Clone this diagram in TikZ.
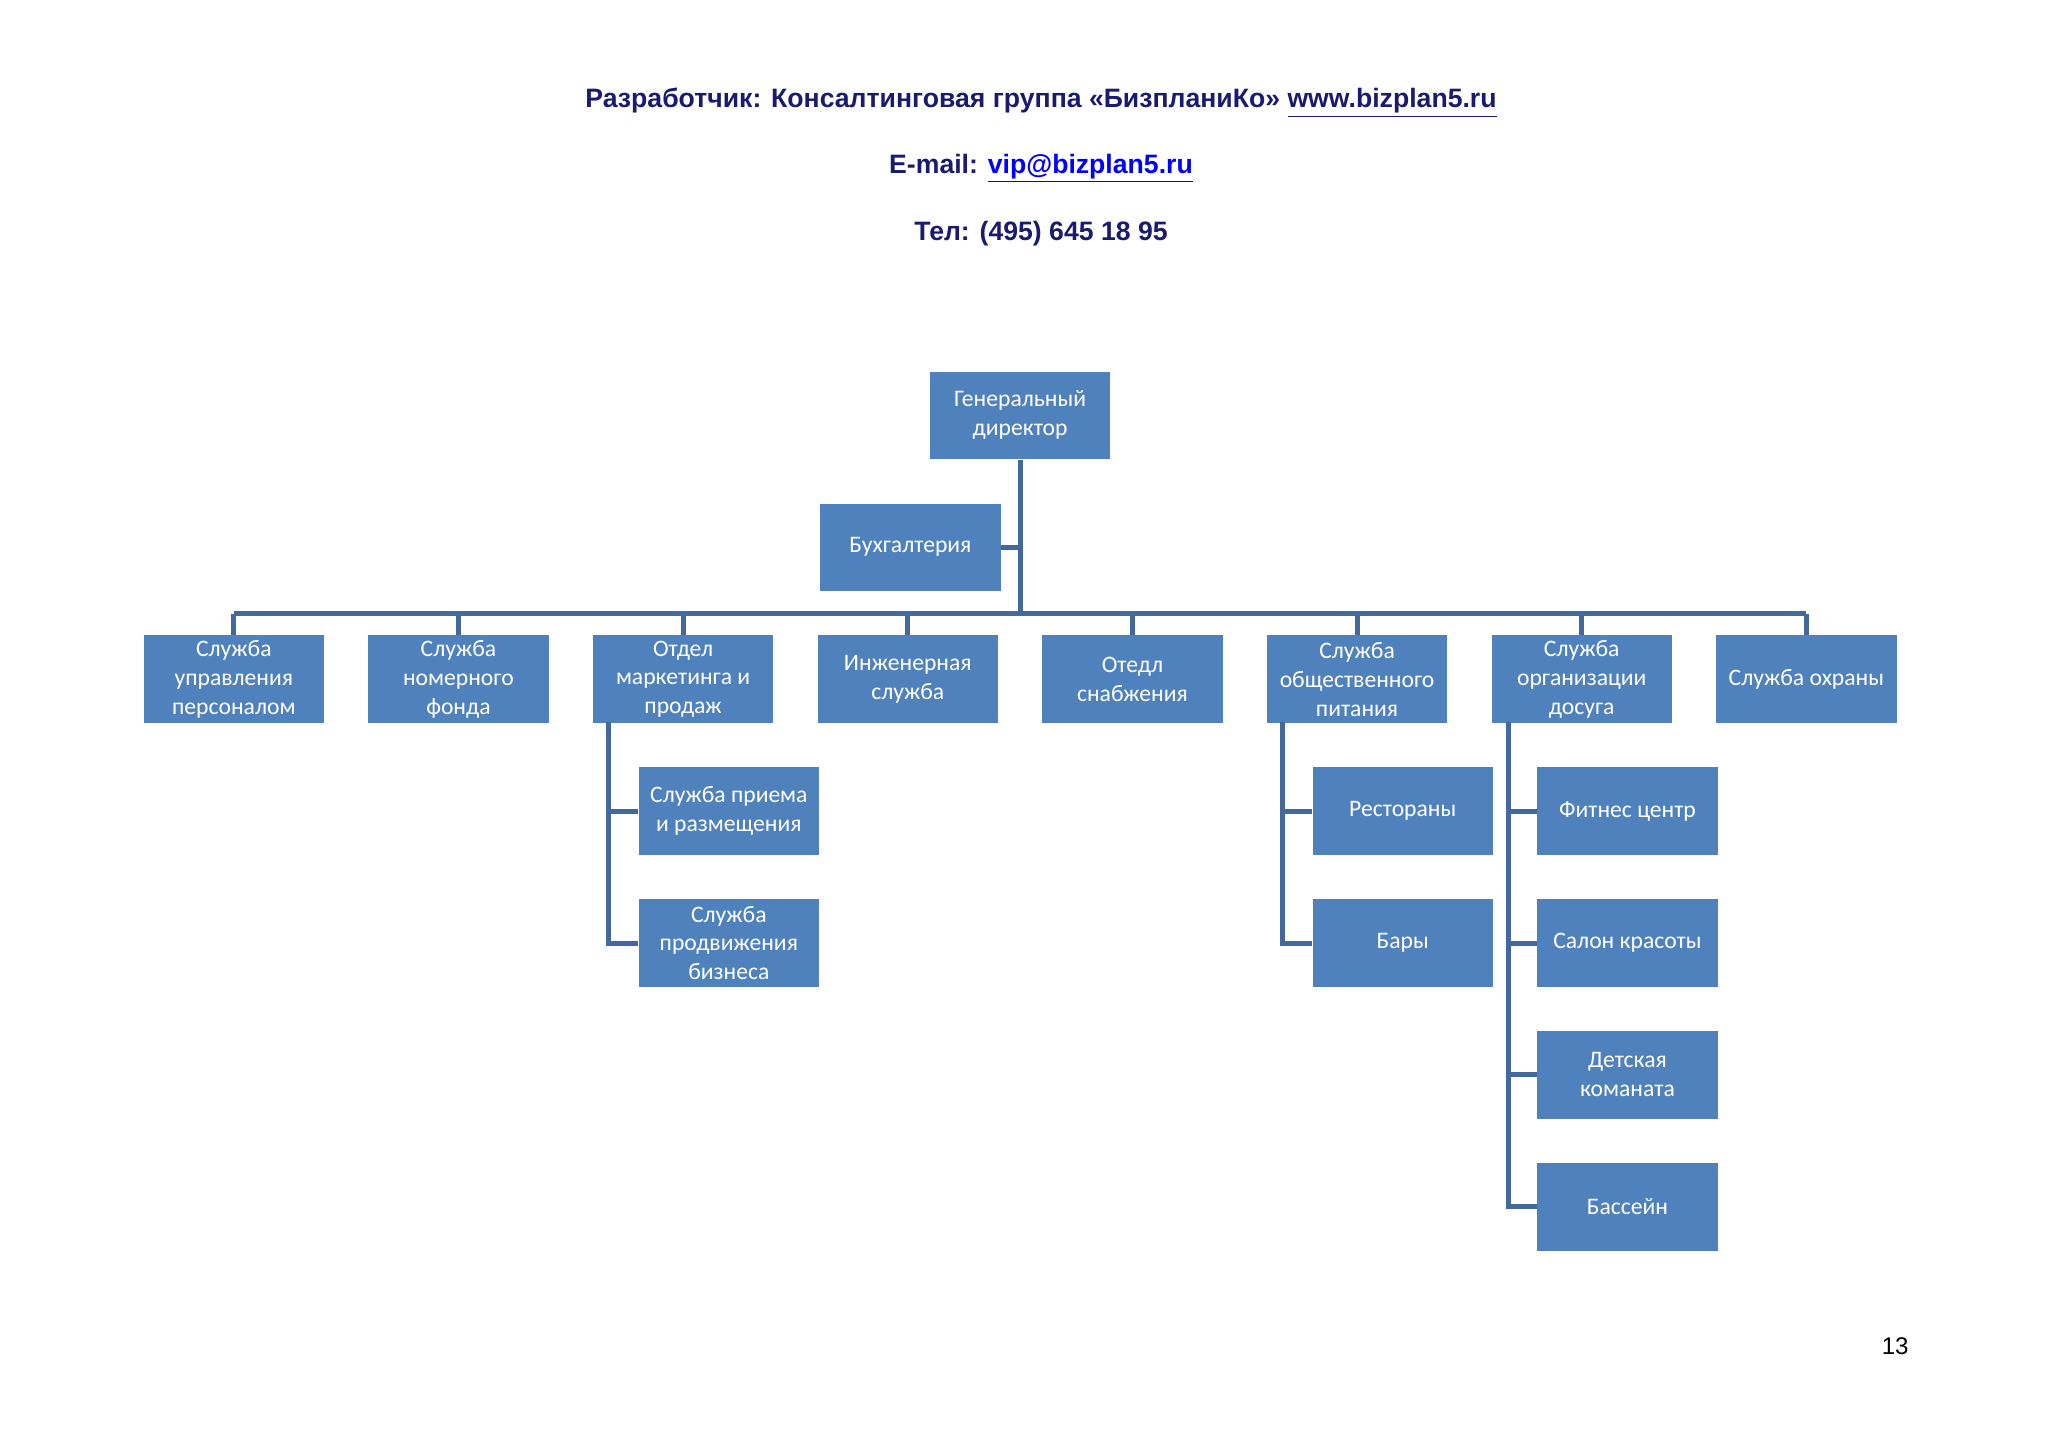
\documentclass[tikz,border=0pt]{standalone}
\usepackage{fontspec}
\setmainfont{Liberation Sans}
\newfontfamily\boxfont{Carlito}
\definecolor{bx}{HTML}{4F81BD}
\definecolor{ln}{HTML}{43699C}
\definecolor{nv}{HTML}{1A1A6E}
\begin{document}
\begin{tikzpicture}[x=0.02cm,y=-0.02cm,
 bxs/.style={fill=bx,text=white,minimum width=138*0.02cm,minimum height=67*0.02cm,inner sep=0pt,align=center,font=\boxfont\fontsize{10.3}{12.6}\selectfont},
 cn/.style={draw=ln,line width=2.2pt},
 tt/.style={font=\bfseries\fontsize{11.6}{14}\selectfont,text=nv}]
\useasboundingbox (0,0) rectangle (1568,1109);
\node[tt] (t1) at (797,79) {Разработчик: Консалтинговая группа «БизпланиКо» \underline{www.bizplan5.ru}};
\node[tt] (t2) at (797,129) {E-mail: \textcolor{blue}{\underline{vip@bizplan5.ru}}};
\node[tt] (t3) at (797,179) {Тел: (495) 645 18 95};
\node[font=\fontsize{10.5}{12}\selectfont] (pg) at (1451,1031) {13};
\node[bxs] (gd) at (781,318) {Генеральный\\директор};
\node[bxs] (bu) at (697,419) {Бухгалтерия};
\foreach \n/\x/\t in {a/179/{Служба\\управления\\персоналом},b/351/{Служба\\номерного\\фонда},c/523/{Отдел\\маркетинга и\\продаж},d/695/{Инженерная\\служба},e/867/{Отедл\\снабжения},f/1039/{Служба\\общественного\\питания},g/1211/{Служба\\организации\\досуга},h/1383/{Служба охраны}}{
 \node[bxs] (\n) at (\x,520) {\t};
 \draw[cn] (\x,470) -- (\n.north);}
\draw[cn] (gd.south) -- (781,470);
\draw[cn] (179,470) -- (1383,470);
\draw[cn] (bu.east) -- (781,419);
\node[bxs] (c1) at (558,621) {Служба приема\\и размещения};
\node[bxs] (c2) at (558,722) {Служба\\продвижения\\бизнеса};
\draw[cn] (466,553) |- (c2.west); \draw[cn] (466,621) -- (c1.west);
\node[bxs] (f1) at (1074,621) {Рестораны};
\node[bxs] (f2) at (1074,722) {Бары};
\draw[cn] (982,553) |- (f2.west); \draw[cn] (982,621) -- (f1.west);
\node[bxs] (g1) at (1246,621) {Фитнес центр};
\node[bxs] (g2) at (1246,722) {Салон красоты};
\node[bxs] (g3) at (1246,823) {Детская\\команата};
\node[bxs] (g4) at (1246,924) {Бассейн};
\draw[cn] (1155,553) |- (g4.west);
\foreach \g/\y in {g1/621,g2/722,g3/823}{\draw[cn] (1155,\y) -- (\g.west);}
\end{tikzpicture}
\end{document}
